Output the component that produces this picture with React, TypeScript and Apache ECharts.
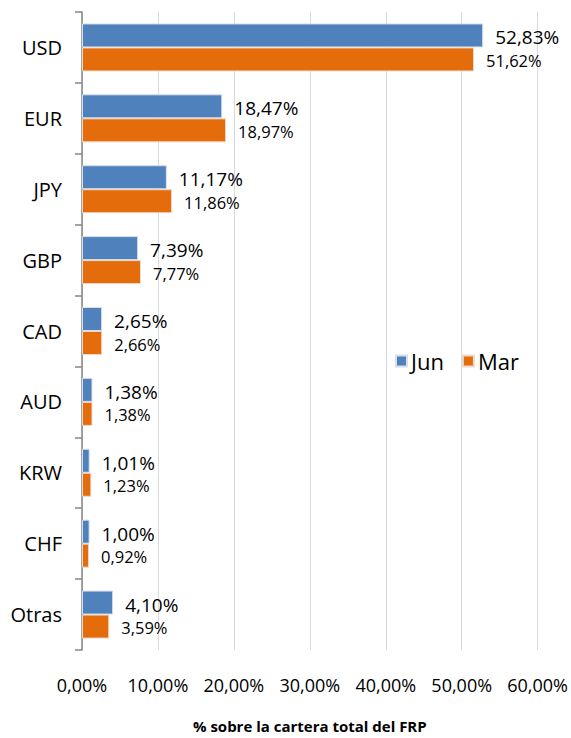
import React, { useEffect, useRef } from "react";
import * as echarts from "echarts";

const categories = ["USD", "EUR", "JPY", "GBP", "CAD", "AUD", "KRW", "CHF", "Otras"];
const junValues = [52.83, 18.47, 11.17, 7.39, 2.65, 1.38, 1.01, 1.0, 4.1];
const marValues = [51.62, 18.97, 11.86, 7.77, 2.66, 1.38, 1.23, 0.92, 3.59];
const xTicks = [0, 10, 20, 30, 40, 50, 60];

const FONT = "'Open Sans', sans-serif";
const fmt = (v: number) => v.toFixed(2).replace(".", ",") + "%";

export default function App() {
  const ref = useRef<HTMLDivElement>(null);
  useEffect(() => {
    document.body.style.margin = "0";
    const chart = echarts.init(ref.current!, null, { renderer: "svg" });
    chart.setOption({
      animation: false,
      textStyle: { fontFamily: FONT },
      legend: {
        left: 390,
        top: 345,
        itemWidth: 11,
        itemHeight: 11,
        itemGap: 18,
        icon: "rect",
        textStyle: { fontSize: 22, color: "#000", fontFamily: FONT, padding: [0, 0, 0, -1] },
        data: ["Jun", "Mar"],
      },
      grid: { left: 82, right: 32, top: 12, bottom: 87, containLabel: false },
      xAxis: {
        type: "value",
        min: xTicks[0],
        max: xTicks[xTicks.length - 1],
        interval: 10,
        axisLine: { show: false },
        axisTick: { show: false },
        splitLine: { show: true, lineStyle: { color: "#d9d9d9", width: 1 } },
        axisLabel: {
          fontSize: 18,
          color: "#000",
          margin: 26,
          fontFamily: FONT,
          formatter: (v: number) => fmt(v),
        },
        name: "% sobre la cartera total del FRP",
        nameLocation: "middle",
        nameGap: 68,
        nameTextStyle: { fontSize: 15, fontWeight: "bold", color: "#000", fontFamily: FONT },
      },
      yAxis: {
        type: "category",
        data: categories,
        inverse: true,
        axisLine: { show: true, lineStyle: { color: "#868686", width: 1.5 } },
        axisTick: { show: true, inside: false, length: 7, lineStyle: { color: "#868686", width: 1.5 } },
        axisLabel: { fontSize: 20, color: "#000", margin: 20, fontFamily: FONT },
        splitLine: { show: false },
      },
      series: [
        {
          name: "Jun",
          type: "bar",
          data: junValues,
          barWidth: 24,
          barGap: "0%",
          itemStyle: { color: "#4F81BD", borderColor: "#d7dfea", borderWidth: 1 },
          label: {
            show: true,
            position: "right",
            distance: 12,
            fontSize: 19,
            color: "#000",
            fontFamily: FONT,
            offset: [0, 2],
            formatter: (p: any) => fmt(p.value),
          },
        },
        {
          name: "Mar",
          type: "bar",
          data: marValues,
          barWidth: 24,
          itemStyle: { color: "#E46C0A", borderColor: "#ead9cc", borderWidth: 1 },
          label: {
            show: true,
            position: "right",
            distance: 12,
            fontSize: 16.5,
            color: "#000",
            fontFamily: FONT,
            offset: [0, 1],
            formatter: (p: any) => fmt(p.value),
          },
        },
      ],
    });
    return () => chart.dispose();
  }, []);
  return <div ref={ref} style={{ width: 571, height: 738 }} />;
}
